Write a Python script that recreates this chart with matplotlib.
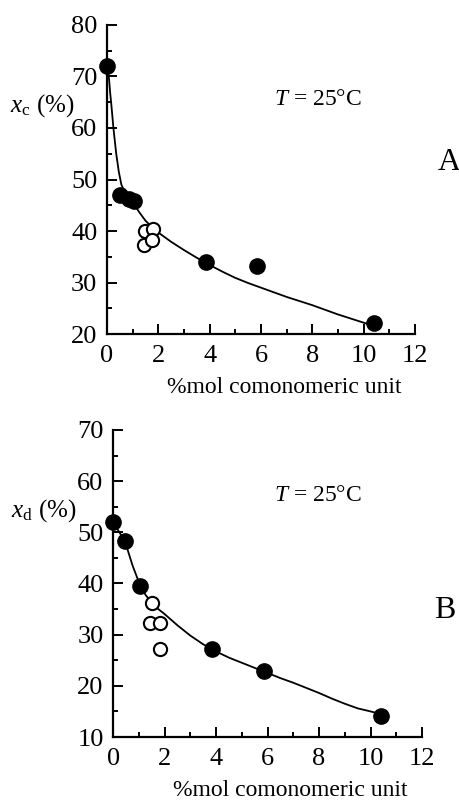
import numpy as np
import matplotlib
matplotlib.use('Agg')
import matplotlib.pyplot as plt
from matplotlib.ticker import MultipleLocator

plt.rcParams['font.family'] = ['Liberation Serif', 'DejaVu Serif']
plt.rcParams['mathtext.fontset'] = 'custom'
plt.rcParams['mathtext.rm'] = 'Liberation Serif'
plt.rcParams['mathtext.it'] = 'Liberation Serif:italic'

# panel A: crystallinity x_c
a_fill_x = [0.0, 0.5, 0.85, 1.05, 3.85, 5.85, 10.4]
a_fill_y = [72.0, 47.0, 46.2, 45.8, 34.0, 33.2, 22.2]
a_open_x = [1.5, 1.8, 1.45, 1.75]
a_open_y = [40.0, 40.3, 37.3, 38.3]
a_fit_x = [0.0, 0.04, 0.08, 0.12, 0.17, 0.25, 0.36, 0.46, 0.56, 0.7, 0.85, 1.0, 1.25, 1.5,
           1.75, 2.0, 2.5, 3.0, 3.5, 4.0, 4.5, 5.0, 5.5, 6.0, 6.5, 7.0, 7.5, 8.0, 8.5, 9.0,
           9.5, 10.0, 10.2]
a_fit_y = [72.0, 71.0, 69.5, 67.0, 64.5, 60.0, 55.0, 51.5, 49.0, 47.5, 46.5, 45.6, 43.7, 42.0,
           40.8, 39.7, 37.9, 36.3, 34.8, 33.4, 32.1, 30.9, 29.9, 29.0, 28.1, 27.2, 26.4, 25.6,
           24.7, 23.8, 23.0, 22.2, 21.9]

# panel B: x_d
b_fill_x = [0.0, 0.47, 1.02, 3.83, 5.84, 10.4]
b_fill_y = [52.1, 48.4, 39.6, 27.1, 22.9, 14.1]
b_open_x = [1.5, 1.44, 1.83, 1.8]
b_open_y = [36.2, 32.2, 32.2, 27.1]
b_fit_x = [0.05, 0.3, 0.5, 0.75, 1.0, 1.25, 1.5, 1.75, 2.0, 2.5, 3.0, 3.5, 4.0, 4.5, 5.0,
           5.5, 6.0, 6.5, 7.0, 7.5, 8.0, 8.5, 9.0, 9.5, 10.0, 10.3]
b_fit_y = [51.5, 49.5, 47.5, 43.5, 40.2, 37.8, 36.2, 35.0, 34.0, 31.8, 29.8, 28.1, 26.7, 25.5,
           24.5, 23.5, 22.5, 21.5, 20.6, 19.6, 18.6, 17.5, 16.5, 15.6, 15.0, 14.6]

fig = plt.figure(figsize=(4.59, 8.01), dpi=100)
axA = fig.add_axes([0.2331, 0.583, 0.671, 0.3858])
axB = fig.add_axes([0.2468, 0.0799, 0.6725, 0.3833])

def style(ax, ylo, yhi):
    ax.set_xlim(0, 12)
    ax.set_ylim(ylo, yhi)
    for s in ['top', 'right']:
        ax.spines[s].set_visible(False)
    for s in ['left', 'bottom']:
        ax.spines[s].set_linewidth(1.6)
    ax.xaxis.set_major_locator(MultipleLocator(2))
    ax.xaxis.set_minor_locator(MultipleLocator(1))
    ax.yaxis.set_major_locator(MultipleLocator(10))
    ax.yaxis.set_minor_locator(MultipleLocator(5))
    ax.tick_params(which='major', direction='in', length=7, width=1.4, labelsize=19, pad=7)
    ax.tick_params(which='minor', direction='in', length=3.5, width=1.4)
    ax.tick_params(axis='x', which='major', pad=8)
    ax.set_xlabel('%mol comonomeric unit', fontsize=17, labelpad=7)
    ax.xaxis.label.set_x(0.574)

style(axA, 20, 80)
axA.plot(a_fit_x, a_fit_y, color='black', lw=1.3)
axA.plot(a_fill_x, a_fill_y, 'o', color='black', ms=11, clip_on=False)
axA.plot(a_open_x, a_open_y, 'o', mfc='white', mec='black', mew=1.5, ms=9.5)
axA.text(-0.105, 0.74, r'$x_{\mathrm{c}}$ (%)', transform=axA.transAxes, fontsize=18, ha='right', va='center')
axA.text(0.685, 0.76, r'$T$ = 25°C', transform=axA.transAxes, fontsize=17, ha='center', va='center')
fig.text(449 / 459, 1 - 163 / 801, 'A', fontsize=23, ha='center', va='center')

style(axB, 10, 70)
axB.plot(b_fit_x, b_fit_y, color='black', lw=1.3)
axB.plot(b_fill_x, b_fill_y, 'o', color='black', ms=11, clip_on=False)
axB.plot(b_open_x, b_open_y, 'o', mfc='white', mec='black', mew=1.5, ms=9.5)
axB.text(-0.12, 0.737, r'$x_{\mathrm{d}}$ (%)', transform=axB.transAxes, fontsize=18, ha='right', va='center')
axB.text(0.663, 0.786, r'$T$ = 25°C', transform=axB.transAxes, fontsize=17, ha='center', va='center')
fig.text(445 / 459, 1 - 610 / 801, 'B', fontsize=23, ha='center', va='center')

fig.savefig('out.png', dpi=100)
